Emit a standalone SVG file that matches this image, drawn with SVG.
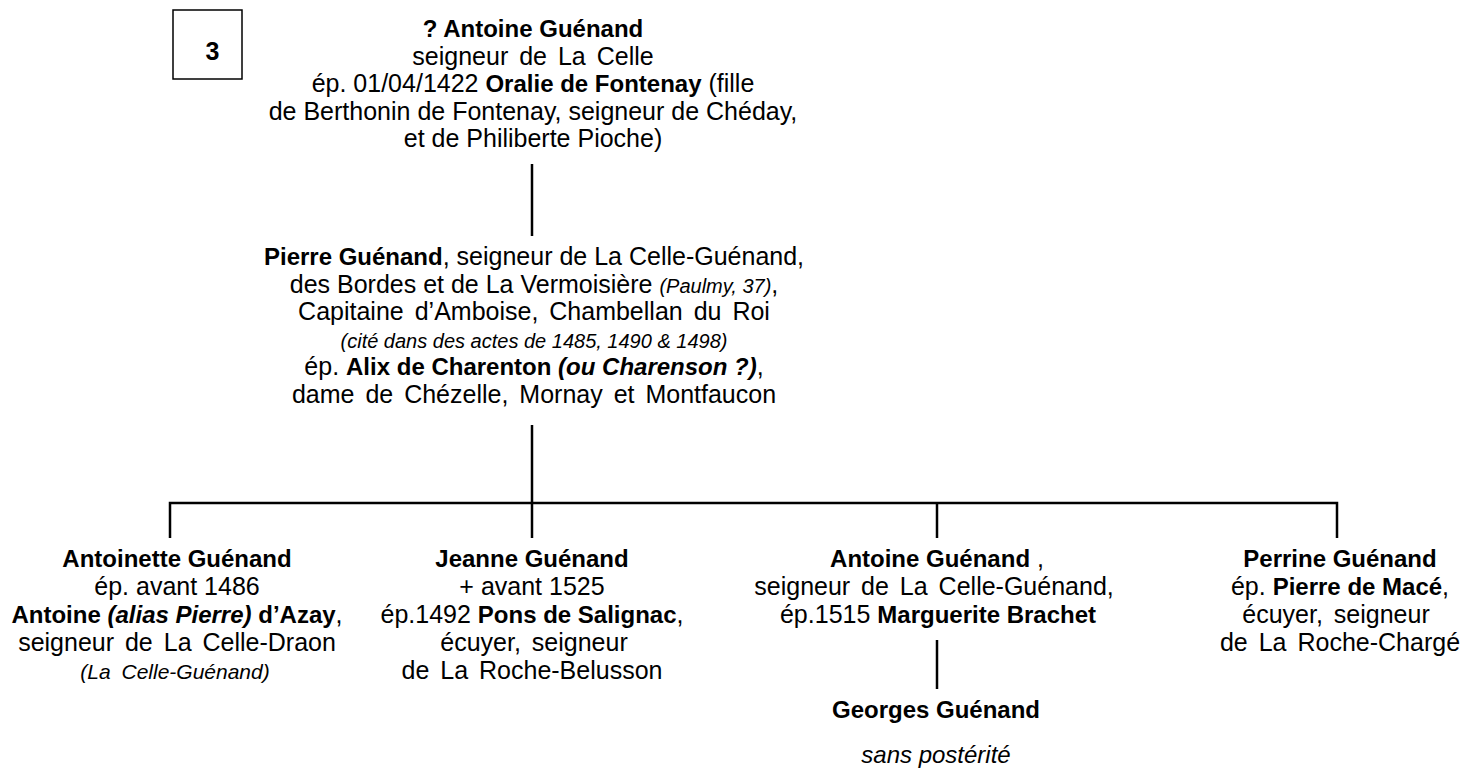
<svg xmlns="http://www.w3.org/2000/svg" width="1460" height="769" viewBox="0 0 1460 769">
<style>
text{font-family:"Liberation Sans",Arial,sans-serif;font-size:25px;fill:#000;text-anchor:middle}
.b{font-weight:bold;font-size:24px}
.i{font-style:italic}
.s{font-size:20px}
.ws{word-spacing:4px}
.ln{stroke:#000;stroke-width:2.5;fill:none}
</style>
<rect width="1460" height="769" fill="#fff"/>
<g id="label3">
<rect x="173" y="10" width="69" height="69" fill="#fff" stroke="#000" stroke-width="1.5"/>
<text x="212.5" y="60" class="b" style="font-size:25px">3</text>
</g>
<g id="connectors">
<line class="ln" x1="532" y1="164" x2="532" y2="236"/>
<line class="ln" x1="532" y1="425" x2="532" y2="538"/>
<polyline class="ln" points="170,538 170,503 1337,503 1337,538"/>
<line class="ln" x1="937" y1="503" x2="937" y2="538"/>
<line class="ln" x1="937" y1="640" x2="937" y2="689"/>
</g>
<g id="antoine-sr">
<text x="533" y="37" class="b">? Antoine Guénand</text>
<text x="533" y="64.6" class="ws">seigneur de La Celle</text>
<text x="533" y="92.2">ép. 01/04/1422 <tspan class="b">Oralie de Fontenay</tspan> (fille</text>
<text x="533" y="119.8">de Berthonin de Fontenay, seigneur de Chéday,</text>
<text x="533" y="147.4">et de Philiberte Pioche)</text>
</g>
<g id="pierre">
<text x="534" y="265"><tspan class="b">Pierre Guénand</tspan>, seigneur de La Celle-Guénand,</text>
<text x="534" y="292.5">des Bordes et de La Vermoisière <tspan class="i s">(Paulmy, 37)</tspan>,</text>
<text x="534" y="320" class="ws">Capitaine d’Amboise, Chambellan du Roi</text>
<text x="534" y="347.5" class="i s">(cité dans des actes de 1485, 1490 &amp; 1498)</text>
<text x="534" y="375">ép. <tspan class="b">Alix de Charenton <tspan class="i">(ou Charenson ?)</tspan></tspan>,</text>
<text x="534" y="402.5" class="ws">dame de Chézelle, Mornay et Montfaucon</text>
</g>
<g id="antoinette">
<text x="177" y="567" class="b">Antoinette Guénand</text>
<text x="177" y="595">ép. avant 1486</text>
<text x="177" y="623"><tspan class="b">Antoine <tspan class="i">(alias Pierre)</tspan> d’Azay</tspan>,</text>
<text x="177" y="651" class="ws">seigneur de La Celle-Draon</text>
<text x="175" y="679" class="i s" style="font-size:21px;word-spacing:5px">(La Celle-Guénand)</text>
</g>
<g id="jeanne">
<text x="532" y="567" class="b">Jeanne Guénand</text>
<text x="532" y="595">+ avant 1525</text>
<text x="532" y="623">ép.1492 <tspan class="b">Pons de Salignac</tspan>,</text>
<text x="534" y="651" class="ws">écuyer, seigneur</text>
<text x="532" y="679" class="ws">de La Roche-Belusson</text>
</g>
<g id="antoine-jr">
<text x="937" y="567"><tspan class="b">Antoine Guénand</tspan> ,</text>
<text x="934" y="595" class="ws">seigneur de La Celle-Guénand,</text>
<text x="938" y="623">ép.1515 <tspan class="b">Marguerite Brachet</tspan></text>
</g>
<g id="perrine">
<text x="1340" y="567" class="b">Perrine Guénand</text>
<text x="1340" y="595">ép. <tspan class="b">Pierre de Macé</tspan>,</text>
<text x="1336" y="623" class="ws">écuyer, seigneur</text>
<text x="1340" y="651" class="ws">de La Roche-Chargé</text>
</g>
<g id="georges">
<text x="936" y="718" class="b">Georges Guénand</text>
<text x="936" y="763" class="i" style="font-size:24px">sans postérité</text>
</g>
</svg>
